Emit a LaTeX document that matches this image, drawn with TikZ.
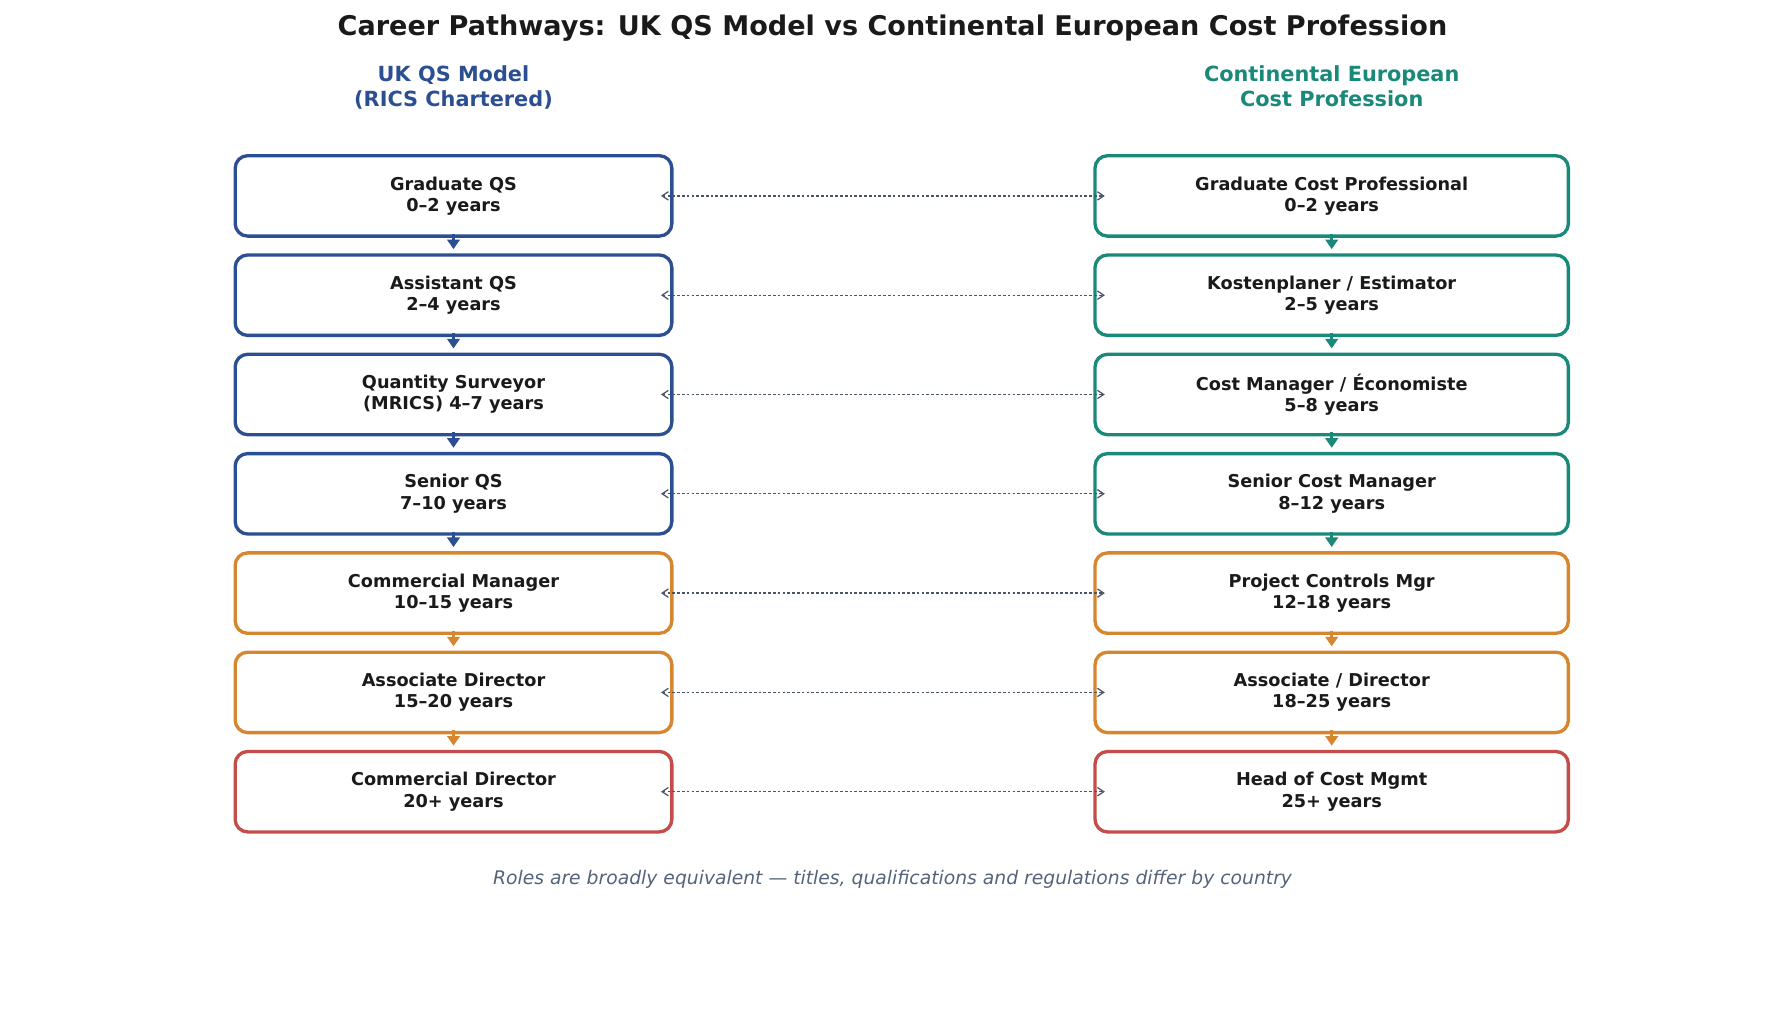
\documentclass[tikz,border=0pt]{standalone}
\usepackage{fontspec}
\setmainfont{DejaVu Sans}
\usetikzlibrary{arrows.meta}

\definecolor{ukblue}{HTML}{2C4F91}
\definecolor{euteal}{HTML}{1A897A}
\definecolor{midorange}{HTML}{D6862F}
\definecolor{topred}{HTML}{C44D4A}
\definecolor{linkgrey}{HTML}{4A5568}
\definecolor{notegrey}{HTML}{55637A}
\definecolor{inkdark}{HTML}{1A1A1A}

\tikzset{
  role/.style={draw=#1, line width=1.6pt, rounded corners=6pt, fill=white,
    minimum height=38.6pt, align=center, text=inkdark,
    font=\fontsize{8.5}{10.2}\selectfont\bfseries},
  ukrole/.style={role=#1, minimum width=209.6pt},
  eurole/.style={role=#1, minimum width=227.2pt},
  stepup/.style={draw=#1, line width=1.2pt, shorten >=2pt,
    -{Triangle[length=4.6pt,width=6pt]}},
  peer/.style={draw=linkgrey, line width=0.6pt, dash pattern=on 1.3pt off 1pt,
    {Straight Barb[length=3pt,width=4pt]}-{Straight Barb[length=3pt,width=4pt]}},
  colhead/.style={align=center, font=\fontsize{10}{12}\selectfont\bfseries}
}

\begin{document}
\begin{tikzpicture}[x=0.48pt, y=-0.48pt]
    \useasboundingbox (0,0) rectangle (1785,1035);

    % title and column heads
    \node[font=\fontsize{13}{15}\selectfont\bfseries, text=inkdark] (title) at (892.5,28.5) {Career Pathways: UK QS Model vs Continental European Cost Profession};
    \node[colhead, text=ukblue] (ukhead) at (453.5,87) {UK QS Model\\(RICS Chartered)};
    \node[colhead, text=euteal] (euhead) at (1331.7,86) {Continental European\\Cost Profession};

    % UK ladder
    \node[ukrole=ukblue] (l1) at (453.5,195.9) {Graduate QS\\0–2 years};
    \node[ukrole=ukblue] (l2) at (453.5,295.2) {Assistant QS\\2–4 years};
    \node[ukrole=ukblue] (l3) at (453.5,394.5) {Quantity Surveyor\\(MRICS) 4–7 years};
    \node[ukrole=ukblue] (l4) at (453.5,493.8) {Senior QS\\7–10 years};
    \node[ukrole=midorange] (l5) at (453.5,593.1) {Commercial Manager\\10–15 years};
    \node[ukrole=midorange] (l6) at (453.5,692.4) {Associate Director\\15–20 years};
    \node[ukrole=topred] (l7) at (453.5,791.7) {Commercial Director\\20+ years};

    % continental ladder
    \node[eurole=euteal] (r1) at (1331.7,195.9) {Graduate Cost Professional\\0–2 years};
    \node[eurole=euteal] (r2) at (1331.7,295.2) {Kostenplaner / Estimator\\2–5 years};
    \node[eurole=euteal] (r3) at (1331.7,394.5) {Cost Manager / Économiste\\5–8 years};
    \node[eurole=euteal] (r4) at (1331.7,493.8) {Senior Cost Manager\\8–12 years};
    \node[eurole=midorange] (r5) at (1331.7,593.1) {Project Controls Mgr\\12–18 years};
    \node[eurole=midorange] (r6) at (1331.7,692.4) {Associate / Director\\18–25 years};
    \node[eurole=topred] (r7) at (1331.7,791.7) {Head of Cost Mgmt\\25+ years};

    % progression arrows
    \draw[stepup=ukblue] ([yshift=2pt]l1.south) -- (l2.north);
    \draw[stepup=ukblue] ([yshift=2pt]l2.south) -- (l3.north);
    \draw[stepup=ukblue] ([yshift=2pt]l3.south) -- (l4.north);
    \draw[stepup=ukblue] ([yshift=2pt]l4.south) -- (l5.north);
    \draw[stepup=midorange] ([yshift=2pt]l5.south) -- (l6.north);
    \draw[stepup=midorange] ([yshift=2pt]l6.south) -- (l7.north);

    \draw[stepup=euteal] ([yshift=2pt]r1.south) -- (r2.north);
    \draw[stepup=euteal] ([yshift=2pt]r2.south) -- (r3.north);
    \draw[stepup=euteal] ([yshift=2pt]r3.south) -- (r4.north);
    \draw[stepup=euteal] ([yshift=2pt]r4.south) -- (r5.north);
    \draw[stepup=midorange] ([yshift=2pt]r5.south) -- (r6.north);
    \draw[stepup=midorange] ([yshift=2pt]r6.south) -- (r7.north);

    % equivalence links
    \draw[peer] ([xshift=-6pt]l1.east) -- ([xshift=5.5pt]r1.west);
    \draw[peer] ([xshift=-6pt]l2.east) -- ([xshift=5.5pt]r2.west);
    \draw[peer] ([xshift=-6pt]l3.east) -- ([xshift=5.5pt]r3.west);
    \draw[peer] ([xshift=-6pt]l4.east) -- ([xshift=5.5pt]r4.west);
    \draw[peer] ([xshift=-6pt]l5.east) -- ([xshift=5.5pt]r5.west);
    \draw[peer] ([xshift=-6pt]l6.east) -- ([xshift=5.5pt]r6.west);
    \draw[peer] ([xshift=-6pt]l7.east) -- ([xshift=5.5pt]r7.west);

    % note
    \node[font=\fontsize{9}{11}\selectfont\itshape, text=notegrey] (note) at (892.5,879) {Roles are broadly equivalent — titles, qualifications and regulations differ by country};

\end{tikzpicture}
\end{document}
